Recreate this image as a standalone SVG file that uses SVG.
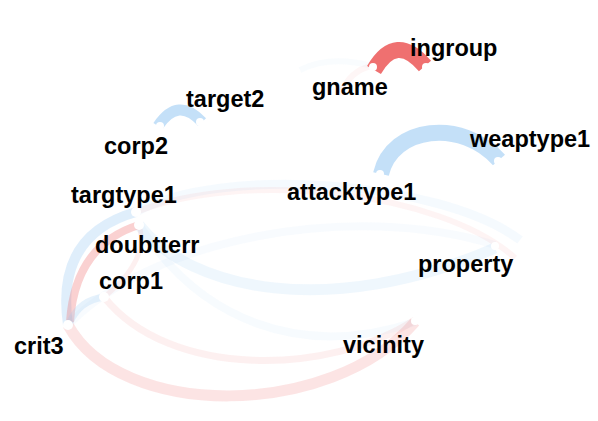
<svg xmlns="http://www.w3.org/2000/svg" width="598" height="421" viewBox="0 0 598 421">
<style>
.lbl{font-family:"Liberation Sans",Arial,sans-serif;font-weight:bold;font-size:23.5px;fill:#000}
.nd{fill:#fff;stroke:none}
.e{fill:none;stroke-linecap:butt}
.pos{stroke:#9CCBF3}
.neg{stroke:#EE6868}
</style>
<rect width="598" height="421" fill="#fff"/>
<g id="edges">
  <path class="e neg" d="M68,325 C120,420 330,420 415,322" stroke-width="11" stroke-opacity="0.18"/>
  <path class="e neg" d="M104,297 C170,380 330,375 415,320" stroke-width="7" stroke-opacity="0.1"/>
  <path class="e pos" d="M139,225 C190,290 330,320 495,248" stroke-width="11" stroke-opacity="0.16"/>
  <path class="e pos" d="M139,225 C200,320 300,360 415,322" stroke-width="8" stroke-opacity="0.08"/>
  <path class="e pos" d="M68,325 C150,240 350,200 495,245" stroke-width="8" stroke-opacity="0.07"/>
  <path class="e pos" d="M136,212 C220,165 440,180 520,240" stroke-width="9" stroke-opacity="0.1"/>
  <path class="e neg" d="M136,212 C240,170 440,190 515,258" stroke-width="6" stroke-opacity="0.07"/>
  <path class="e pos" d="M68,325 Q55,235 136,212" stroke-width="10" stroke-opacity="0.32"/>
  <path class="e neg" d="M70,322 Q75,245 139,225" stroke-width="8" stroke-opacity="0.3"/>
  <path class="e pos" d="M70,322 Q80,300 104,297" stroke-width="7" stroke-opacity="0.25"/>
  <path class="e neg" d="M104,297 Q150,260 139,225" stroke-width="5" stroke-opacity="0.1"/>
  <path class="e neg" d="M340,95 Q350,70 372,66" stroke-width="6" stroke-opacity="0.06"/>
  <path class="e pos" d="M300,70 Q330,55 372,66" stroke-width="6" stroke-opacity="0.06"/>
  <path class="e neg" d="M374,70 Q396,32 425,66" stroke-width="16" stroke-opacity="0.95" stroke="#F07272"/>
  <path class="e pos" d="M158,126 Q178,96 202,122" stroke-width="11" stroke-opacity="0.6"/>
  <path class="e pos" d="M381,174 C392,126 462,118 499,160" stroke-width="16" stroke-opacity="0.6"/>
</g>
<g id="node-ingroup"><circle class="nd" cx="426" cy="67" r="4"/><text class="lbl" x="410" y="56">ingroup</text></g>
<g id="node-gname"><circle class="nd" cx="373" cy="67" r="4"/><text class="lbl" x="312" y="95">gname</text></g>
<g id="node-target2"><circle class="nd" cx="200" cy="122" r="4"/><text class="lbl" x="186" y="107">target2</text></g>
<g id="node-corp2"><circle class="nd" cx="160" cy="126" r="4"/><text class="lbl" x="104" y="154">corp2</text></g>
<g id="node-weaptype1"><circle class="nd" cx="498" cy="161" r="4"/><text class="lbl" x="470" y="147">weaptype1</text></g>
<g id="node-attacktype1"><circle class="nd" cx="380" cy="174" r="4"/><text class="lbl" x="287" y="200">attacktype1</text></g>
<g id="node-targtype1"><circle class="nd" cx="136" cy="212" r="5"/><text class="lbl" x="71" y="203">targtype1</text></g>
<g id="node-doubtterr"><circle class="nd" cx="139" cy="225" r="5"/><text class="lbl" x="95" y="253">doubtterr</text></g>
<g id="node-corp1"><circle class="nd" cx="104" cy="297" r="5"/><text class="lbl" x="99" y="289">corp1</text></g>
<g id="node-crit3"><circle class="nd" cx="68" cy="325" r="5"/><text class="lbl" x="14" y="354">crit3</text></g>
<g id="node-property"><circle class="nd" cx="495" cy="246" r="4"/><text class="lbl" x="418" y="272">property</text></g>
<g id="node-vicinity"><circle class="nd" cx="415" cy="321" r="4"/><text class="lbl" x="343" y="353">vicinity</text></g>
</svg>
